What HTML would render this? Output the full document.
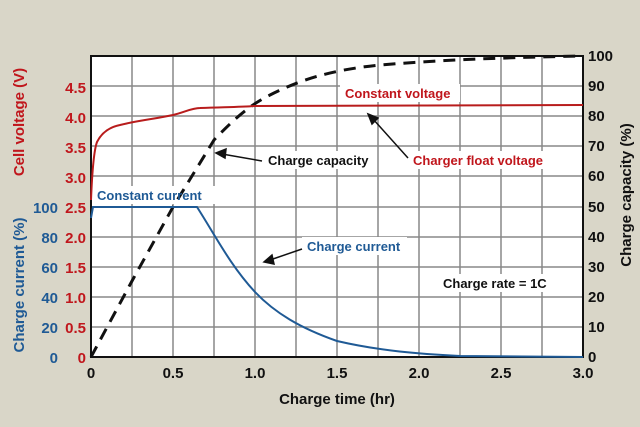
<!DOCTYPE html>
<html><head><style>body{margin:0;background:#d9d6c8;}svg{display:block}</style></head><body>
<svg width="640" height="427" xmlns="http://www.w3.org/2000/svg" font-family="Liberation Sans, Arial, sans-serif" font-weight="bold">
<rect width="640" height="427" fill="#d9d6c8"/>
<rect x="91" y="56" width="492" height="301" fill="#fff"/>
<g stroke="#888" stroke-width="1.5">
<line x1="132" y1="56" x2="132" y2="357"/><line x1="173" y1="56" x2="173" y2="357"/><line x1="214" y1="56" x2="214" y2="357"/><line x1="255" y1="56" x2="255" y2="357"/><line x1="296" y1="56" x2="296" y2="357"/><line x1="337" y1="56" x2="337" y2="357"/><line x1="378" y1="56" x2="378" y2="357"/><line x1="419" y1="56" x2="419" y2="357"/><line x1="460" y1="56" x2="460" y2="357"/><line x1="501" y1="56" x2="501" y2="357"/><line x1="542" y1="56" x2="542" y2="357"/>
<line x1="91" y1="86" x2="583" y2="86"/><line x1="91" y1="116" x2="583" y2="116"/><line x1="91" y1="146" x2="583" y2="146"/><line x1="91" y1="176" x2="583" y2="176"/><line x1="91" y1="207" x2="583" y2="207"/><line x1="91" y1="237" x2="583" y2="237"/><line x1="91" y1="267" x2="583" y2="267"/><line x1="91" y1="297" x2="583" y2="297"/><line x1="91" y1="327" x2="583" y2="327"/>
</g>
<rect x="91" y="56" width="492" height="301" fill="none" stroke="#111" stroke-width="2"/>
<rect x="94" y="186" width="140" height="18" fill="#fff"/>
<rect x="340" y="84" width="120" height="18" fill="#fff"/>
<rect x="263" y="151" width="110" height="18" fill="#fff"/>
<rect x="408" y="151" width="150" height="18" fill="#fff"/>
<rect x="302" y="237" width="105" height="18" fill="#fff"/>
<rect x="438" y="274" width="120" height="18" fill="#fff"/>
<path d="M91,357 L132,281 L173,207 L214,140 C235,118 250,105 270,95 C300,80 330,70 380,65 C430,61 480,58 583,56" fill="none" stroke="#111" stroke-width="3" stroke-dasharray="12,8"/>
<path d="M91,200 C92,175 94,150 97,142 C102,132 110,127 120,125 C140,120 155,119 173,115 C185,112 192,108 200,108 C230,107 240,107 255,106 L583,105" fill="none" stroke="#b81c1c" stroke-width="2"/>
<path d="M91,218 L93,207 L197,207 C215,235 230,265 255,292 C275,313 300,328 337,341 C380,351 420,354 460,356 L583,357" fill="none" stroke="#1f5a95" stroke-width="2"/>
<g stroke="#111" stroke-width="1.5" fill="#111">
<line x1="262" y1="161" x2="222" y2="154"/><polygon points="216,153 226,149 225,158"/>
<line x1="408" y1="158" x2="373" y2="119"/><polygon points="368,114 378,118 372,124"/>
<line x1="302" y1="249" x2="270" y2="260"/><polygon points="264,262 272,255 274,264"/>
</g>
<g font-size="13">
<text x="345" y="98" fill="#c0161c">Constant voltage</text>
<text x="268" y="165" fill="#111">Charge capacity</text>
<text x="413" y="165" fill="#c0161c">Charger float voltage</text>
<text x="97" y="200" fill="#1f5a95">Constant current</text>
<text x="307" y="251" fill="#1f5a95">Charge current</text>
<text x="443" y="288" fill="#111">Charge rate = 1C</text>
</g>
<g font-size="15" fill="#c0161c" text-anchor="end">
<text x="86" y="93">4.5</text><text x="86" y="123">4.0</text><text x="86" y="153">3.5</text><text x="86" y="183">3.0</text><text x="86" y="213">2.5</text><text x="86" y="243">2.0</text><text x="86" y="273">1.5</text><text x="86" y="303">1.0</text><text x="86" y="333">0.5</text><text x="86" y="363">0</text>
</g>
<g font-size="15" fill="#1f5a95" text-anchor="end">
<text x="58" y="213">100</text><text x="58" y="243">80</text><text x="58" y="273">60</text><text x="58" y="303">40</text><text x="58" y="333">20</text><text x="58" y="363">0</text>
</g>
<g font-size="15" fill="#111">
<text x="588" y="61">100</text><text x="588" y="91">90</text><text x="588" y="121">80</text><text x="588" y="151">70</text><text x="588" y="181">60</text><text x="588" y="212">50</text><text x="588" y="242">40</text><text x="588" y="272">30</text><text x="588" y="302">20</text><text x="588" y="332">10</text><text x="588" y="362">0</text>
</g>
<g font-size="15" fill="#111" text-anchor="middle">
<text x="91" y="378">0</text><text x="173" y="378">0.5</text><text x="255" y="378">1.0</text><text x="337" y="378">1.5</text><text x="419" y="378">2.0</text><text x="501" y="378">2.5</text><text x="583" y="378">3.0</text>
<text x="337" y="404">Charge time (hr)</text>
</g>
<text transform="translate(24,122) rotate(-90)" font-size="15" fill="#c0161c" text-anchor="middle">Cell voltage (V)</text>
<text transform="translate(24,285) rotate(-90)" font-size="15" fill="#1f5a95" text-anchor="middle">Charge current (%)</text>
<text transform="translate(631,195) rotate(-90)" font-size="15" fill="#111" text-anchor="middle">Charge capacity (%)</text>
</svg>
</body></html>
